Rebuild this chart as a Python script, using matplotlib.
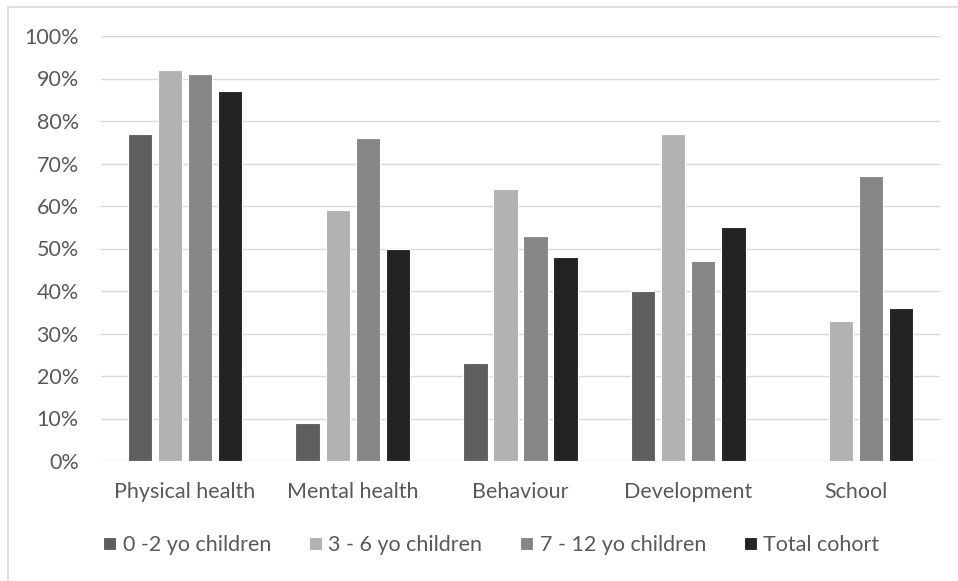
import numpy as np
import matplotlib.pyplot as plt
from matplotlib.patches import Rectangle

categories = ['Physical health', 'Mental health', 'Behaviour', 'Development', 'School']
series_names = ['0 -2 yo children', '3 - 6 yo children', '7 - 12 yo children', 'Total cohort']
age_0_2 = [77, 9, 23, 40, 0]
age_3_6 = [92, 59, 64, 77, 33]
age_7_12 = [91, 76, 53, 47, 67]
total = [87, 50, 48, 55, 36]
colors = ['#5f5f5f', '#b2b2b2', '#868686', '#232323']

plt.rcParams['font.family'] = ['Lato', 'DejaVu Sans']

fig = plt.figure(figsize=(9.58, 5.81), dpi=100)
ax = fig.add_axes([101 / 958, 1 - 461 / 581, (940 - 101) / 958, (461 - 36) / 581])

x = np.arange(len(categories))
width = 0.145
step = 0.179
for i, (vals, name) in enumerate(zip([age_0_2, age_3_6, age_7_12, total], series_names)):
    ax.bar(x + (i - 1.5) * step, vals, width, color=colors[i], label=name,
           edgecolor='white', linewidth=0.8, zorder=3)

ax.set_xlim(-0.5, len(categories) - 0.5)
ax.set_ylim(0, 100)
ax.set_yticks(range(0, 101, 10))
ax.set_yticklabels([f'{v}%' for v in range(0, 101, 10)])
ax.set_xticks(x)
ax.set_xticklabels(categories)
ax.grid(axis='y', color='#d9d9d9', linewidth=1, zorder=0)
for s in ax.spines.values():
    s.set_visible(False)
ax.tick_params(length=0, colors='#595959', labelsize=15.5)
ax.tick_params(axis='x', pad=15)
ax.tick_params(axis='y', pad=16)

leg = fig.legend(loc='center', bbox_to_anchor=(0.513, 1 - 545 / 581), ncol=4, frameon=False,
                 fontsize=15.5, handlelength=0.6, handleheight=0.6, handletextpad=0.3,
                 columnspacing=1.76)
for t in leg.get_texts():
    t.set_color('#595959')

# outer chart frame: only the top and left edges fall inside the image
fig.patches.append(Rectangle((8 / 958, -0.05), 1.0, 1 - 7 / 581 + 0.05,
                             transform=fig.transFigure, fill=False, edgecolor='#d9d9d9',
                             linewidth=1.2))

fig.savefig('out.png', dpi=100)
